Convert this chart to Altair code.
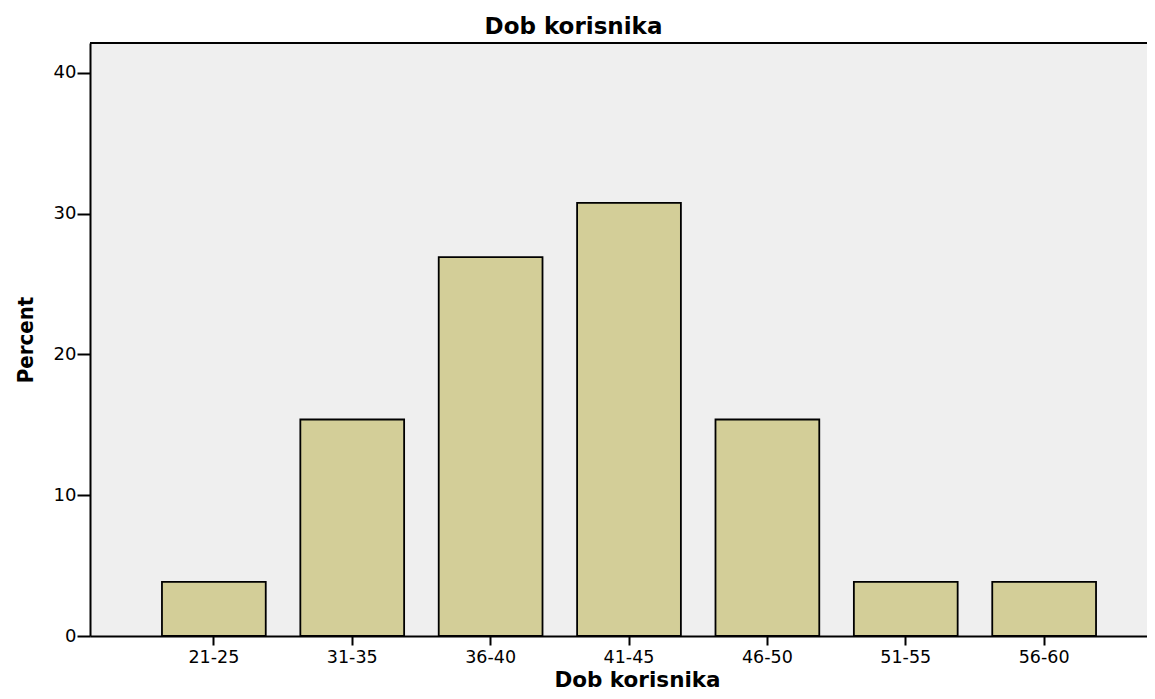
import altair as alt
import pandas as pd

categories = ["21-25", "31-35", "36-40", "41-45", "46-50", "51-55", "56-60"]
percent = [3.85, 15.38, 26.92, 30.77, 15.38, 3.85, 3.85]
y_ticks = [0, 10, 20, 30, 40]

df = pd.DataFrame({"Dob korisnika": categories, "Percent": percent})

W = 1057
H = 593
LABEL_FONT = "DejaVu Sans"
TITLE_FONT = "DejaVu Sans"
YTITLE_FONT = "Liberation Sans Narrow, Arial Narrow, DejaVu Sans Condensed, Liberation Sans, sans-serif"

bars = alt.Chart(df).mark_bar(
    fill="#d3ce98", stroke="black", strokeWidth=1.8
).encode(
    x=alt.X(
        "Dob korisnika:N",
        sort=categories,
        scale=alt.Scale(paddingInner=0.25, paddingOuter=0.52, range=[0, 1078]),
        axis=alt.Axis(
            title="Dob korisnika",
            labelAngle=0,
            labelFont=LABEL_FONT,
            labelFontSize=17.5,
            labelColor="black",
            labelBaseline="alphabetic",
            labelPadding=17,
            tickSize=9,
            tickWidth=2,
            tickColor="black",
            domainColor="black",
            domainWidth=2,
            titleFont=TITLE_FONT,
            titleFontSize=21.5,
            titleFontWeight="bold",
            titleColor="black",
            titleBaseline="alphabetic",
            titleAlign="center",
            titleX=547,
            titleY=50,
        ),
    ),
    y=alt.Y(
        "Percent:Q",
        scale=alt.Scale(domain=[0, 42.13], nice=False, zero=True),
        axis=alt.Axis(
            title="Percent",
            values=y_ticks,
            grid=False,
            labelFont=LABEL_FONT,
            labelFontSize=18,
            labelColor="black",
            labelPadding=1,
            tickSize=13,
            tickWidth=2,
            tickColor="black",
            domainColor="black",
            domainWidth=2,
            titleFont=YTITLE_FONT,
            titleFontSize=22,
            titleFontWeight="bold",
            titleColor="black",
            titleAngle=270,
            titleBaseline="alphabetic",
            titleAlign="center",
            titleX=-58,
            titleY=296.5,
        ),
    ),
)

top_border = alt.Chart(df).mark_rule(color="black", strokeWidth=2).encode(
    x=alt.value(0), x2=alt.value(W), y=alt.value(0)
)

chart = alt.layer(bars, top_border).properties(
    width=W,
    height=H,
    autosize=alt.AutoSizeParams(type="none"),
    padding={"left": 82, "top": 35, "right": 0, "bottom": 55},
    title=alt.TitleParams(
        text="Dob korisnika",
        font=TITLE_FONT,
        fontSize=23,
        fontWeight="bold",
        color="black",
        anchor="middle",
        baseline="alphabetic",
        offset=10,
        dx=-45,
        dy=25,
    ),
).configure_view(fill="#efefef", stroke="transparent", strokeWidth=0)

chart.save("out.html", embed_options={"renderer": "svg", "actions": False})
